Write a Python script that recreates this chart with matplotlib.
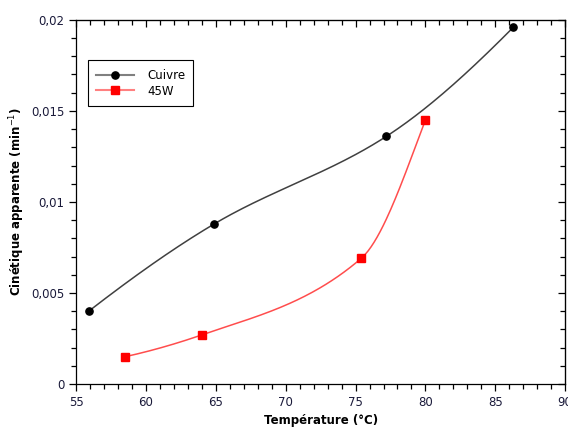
"""Cinétique apparente vs température, Cuivre / 45W."""

import matplotlib
matplotlib.use('Agg')
import matplotlib.pyplot as plt
import numpy as np
from matplotlib.ticker import FuncFormatter, MultipleLocator

cuivre_temp = [55.9, 64.9, 77.2, 86.3]
cuivre_rate = [0.0040, 0.0088, 0.0136, 0.0196]
w45_temp = [58.5, 64.0, 75.4, 80.0]
w45_rate = [0.0015, 0.0027, 0.0069, 0.0145]


def pchip(x, y, n=200):
    # monotone cubic curve through the measured points (Fritsch-Carlson)
    x = np.asarray(x, float)
    y = np.asarray(y, float)
    h = np.diff(x)
    delta = np.diff(y) / h
    d = np.zeros(len(x))
    for i in range(1, len(x) - 1):
        if delta[i - 1] * delta[i] > 0:
            w1 = 2 * h[i] + h[i - 1]
            w2 = h[i] + 2 * h[i - 1]
            d[i] = (w1 + w2) / (w1 / delta[i - 1] + w2 / delta[i])
    d[0] = ((2 * h[0] + h[1]) * delta[0] - h[0] * delta[1]) / (h[0] + h[1])
    d[-1] = ((2 * h[-1] + h[-2]) * delta[-1] - h[-1] * delta[-2]) / (h[-1] + h[-2])
    xs = np.linspace(x[0], x[-1], n)
    idx = np.clip(np.searchsorted(x, xs) - 1, 0, len(x) - 2)
    t = (xs - x[idx]) / h[idx]
    h00 = 2 * t ** 3 - 3 * t ** 2 + 1
    h10 = t ** 3 - 2 * t ** 2 + t
    h01 = -2 * t ** 3 + 3 * t ** 2
    h11 = t ** 3 - t ** 2
    ys = (h00 * y[idx] + h10 * h[idx] * d[idx]
          + h01 * y[idx + 1] + h11 * h[idx] * d[idx + 1])
    return xs, ys


def main():
    fig = plt.figure(figsize=(5.68, 4.32), dpi=100)
    ax = fig.add_axes([0.134, 0.111, 0.861, 0.843])

    sx, sy = pchip(cuivre_temp, cuivre_rate)
    ax.plot(sx, sy, color='#404040', linewidth=1.1, zorder=3)
    ax.plot(cuivre_temp, cuivre_rate, 'o', color='black', markersize=5.2,
            zorder=4)
    sx, sy = pchip(w45_temp, w45_rate)
    ax.plot(sx, sy, color='#ff4d4d', linewidth=1.1, zorder=3)
    ax.plot(w45_temp, w45_rate, 's', color='red', markersize=6.3, zorder=4)

    # legend handles
    ax.plot([], [], '-o', color='#808080', markerfacecolor='black',
            markeredgecolor='black', markersize=5.2, label='Cuivre')
    ax.plot([], [], '-s', color='#ff8080', markerfacecolor='red',
            markeredgecolor='red', markersize=6.3, label='45W')
    leg = ax.legend(loc='upper left', bbox_to_anchor=(0.012, 0.905),
                    fancybox=False, edgecolor='black', framealpha=1,
                    fontsize=8.5, handlelength=3.2, handletextpad=1.1,
                    borderpad=0.7, labelspacing=0.25)
    leg.get_frame().set_linewidth(0.8)

    ax.set_xlim(55, 90)
    ax.set_ylim(0, 0.02)
    ax.xaxis.set_major_locator(MultipleLocator(5))
    ax.xaxis.set_minor_locator(MultipleLocator(1))
    ax.yaxis.set_major_locator(MultipleLocator(0.005))
    ax.yaxis.set_minor_locator(MultipleLocator(0.001))
    ax.yaxis.set_major_formatter(
        FuncFormatter(lambda v, _: ('%g' % round(v, 4)).replace('.', ',')))

    ax.tick_params(which='both', direction='out', top=False, right=False,
                   labelsize=8.5, labelcolor='#1a1a3a', width=0.9)
    ax.tick_params(which='major', length=5)
    ax.tick_params(which='minor', length=3.5)
    for side in ('top', 'right'):
        twin = ax.secondary_xaxis('top') if side == 'top' else \
            ax.secondary_yaxis('right')
        twin.tick_params(which='both', direction='in', width=0.9)
        twin.tick_params(which='major', length=5)
        twin.tick_params(which='minor', length=3.5)
        axis = twin.xaxis if side == 'top' else twin.yaxis
        axis.set_major_locator(MultipleLocator(5 if side == 'top' else 0.005))
        axis.set_minor_locator(MultipleLocator(1 if side == 'top' else 0.001))
        axis.set_major_formatter(FuncFormatter(lambda v, _: ''))
    for spine in ax.spines.values():
        spine.set_linewidth(0.9)

    ax.set_xlabel('Température (°C)', fontsize=8.5, fontweight='bold',
                  labelpad=4)
    ax.set_ylabel('Cinétique apparente (min$^{-1}$)', fontsize=8.5,
                  fontweight='bold', labelpad=3)

    fig.savefig('out.png', dpi=100)


if __name__ == '__main__':
    main()
